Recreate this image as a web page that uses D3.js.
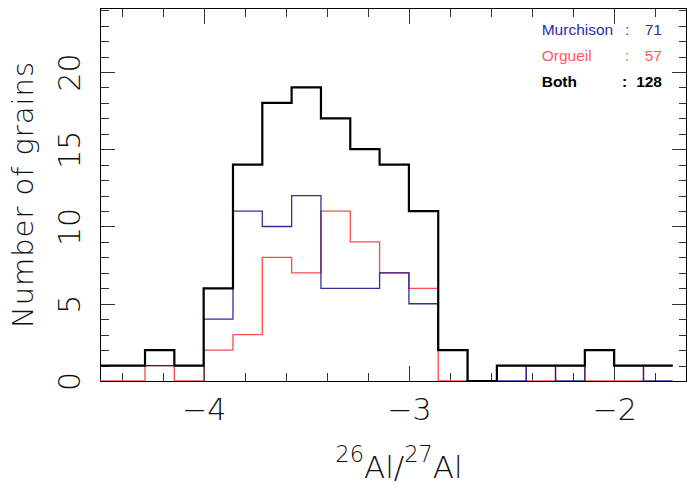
<!DOCTYPE html>
<html>
<head>
<meta charset="utf-8">
<script src="https://cdn.jsdelivr.net/npm/d3@7"></script>
<style>
  body { margin: 0; background: #fff; }
  svg { display: block; }
  .axis .domain { display: none; }
  .axis line { stroke: #333; shape-rendering: crispEdges; }
  .axis text { font-family: "DejaVu Sans", sans-serif; font-weight: 200; fill: #111; }
</style>
</head>
<body>
<svg width="687" height="485"></svg>
<script>
// 26Al/27Al histogram, bins of 1/7 starting at -4.5714
var binStart = -4.5714;
var binWidth = 0.142857;
var murchison = [1, 1, 1, 1, 4, 11, 10, 12, 6, 6, 7, 5, 2, 0, 0, 1, 0, 2, 1, 0];
var orgueil   = [0, 0, 1, 0, 2, 3, 8, 7, 11, 9, 7, 6, 0, 0, 1, 0, 1, 0, 0, 1];
var both      = [1, 1, 2, 1, 6, 14, 18, 19, 17, 15, 14, 11, 2, 0, 1, 1, 1, 2, 1, 1];
var seriesNames = ["Murchison", "Orgueil", "Both"];
var xMajor = [-4, -3, -2];
var yMajor = [0, 5, 10, 15, 20];

var svg = d3.select("svg");

var x = d3.scaleLinear().domain([-4.505, -1.65]).range([100, 686]);
var y = d3.scaleLinear().domain([0, 24.1]).range([381, 8.6]);

var xMinor = d3.range(-4.4, -1.7, 0.2).filter(v => Math.abs(v - Math.round(v)) > 0.01);
var yMinor = d3.range(0, 25).filter(v => v % 5 != 0);

// clip for the histogram lines
svg.append("clipPath").attr("id", "plotclip")
    .append("rect")
    .attr("x", 100).attr("y", 8.6)
    .attr("width", 586).attr("height", 381 - 8.6);

// axes (ticks on all four sides, major ticks longer)
function addAxis(gen, tr) {
    return svg.append("g").attr("class", "axis").attr("transform", tr).call(gen);
}
addAxis(d3.axisBottom(x).tickValues(xMinor).tickSize(-8).tickFormat(""), "translate(0,381)");
var xAx = addAxis(d3.axisBottom(x).tickValues(xMajor).tickSize(-15).tickFormat(d3.format("d")), "translate(0,381)");
addAxis(d3.axisTop(x).tickValues(xMinor).tickSize(-8).tickFormat(""), "translate(0,8.6)");
addAxis(d3.axisTop(x).tickValues(xMajor).tickSize(-15).tickFormat(""), "translate(0,8.6)");
addAxis(d3.axisLeft(y).tickValues(yMinor).tickSize(-9).tickFormat(""), "translate(100,0)");
var yAx = addAxis(d3.axisLeft(y).tickValues(yMajor).tickSize(-15), "translate(100,0)");
addAxis(d3.axisRight(y).tickValues(yMinor).tickSize(-7).tickFormat(""), "translate(686,0)");
addAxis(d3.axisRight(y).tickValues(yMajor).tickSize(-14).tickFormat(""), "translate(686,0)");

xAx.selectAll("text")
    .attr("y", 39).attr("dy", 0)
    .style("font-size", "30px");

yAx.selectAll("text")
    .attr("transform", "rotate(-90)")
    .attr("x", 0).attr("y", -20).attr("dy", 0)
    .attr("text-anchor", "middle")
    .style("font-size", "30px");

// frame
svg.append("rect")
    .attr("x", 100).attr("y", 8.6)
    .attr("width", 586).attr("height", 381 - 8.6)
    .attr("fill", "none")
    .attr("stroke", "#000")
    .attr("stroke-width", 1)
    .attr("shape-rendering", "crispEdges");

// step histograms
var line = d3.line()
    .x(d => x(d[0]))
    .y(d => y(d[1]))
    .curve(d3.curveStepAfter);

function steps(counts) {
    var pts = counts.map((c, i) => [binStart + i * binWidth, c]);
    pts.push([binStart + counts.length * binWidth, counts[counts.length - 1]]);
    return pts;
}

var hist = svg.append("g").attr("clip-path", "url(#plotclip)");
var styles = [
    { data: orgueil, color: "#ff4a4a", width: 1.3, opacity: 1 },
    { data: murchison, color: "#0c0c8c", width: 1.3, opacity: 0.85 },
    { data: both, color: "#000", width: 2.2, opacity: 1 }
];
styles.forEach(s => {
    hist.append("path")
        .attr("d", line(steps(s.data)))
        .attr("fill", "none")
        .attr("stroke", s.color)
        .attr("stroke-width", s.width)
        .attr("stroke-opacity", s.opacity);
});

// legend
var legendColors = ["#2b2bb0", "#ff5a5a", "#000"];
var totals = [d3.sum(murchison), d3.sum(orgueil), d3.sum(both)];
var legend = svg.append("g")
    .style("font-family", "'Liberation Sans', Arial, sans-serif")
    .style("font-size", "15.5px");
seriesNames.forEach((name, i) => {
    var ly = 35 + i * 25.8;
    var g = legend.append("g").style("font-weight", i == 2 ? "bold" : "normal");
    g.append("text").attr("x", 541.7).attr("y", ly).attr("fill", legendColors[i]).text(name);
    g.append("text").attr("x", i == 2 ? 622 : 625).attr("y", ly).attr("fill", legendColors[i]).text(":");
    g.append("text").attr("x", 662).attr("y", ly).attr("text-anchor", "end").attr("fill", legendColors[i]).text(totals[i]);
});

// axis titles
svg.append("text")
    .attr("transform", "translate(33,195) rotate(-90)")
    .attr("text-anchor", "middle")
    .attr("textLength", 266)
    .attr("lengthAdjust", "spacing")
    .style("font-family", "'DejaVu Sans', sans-serif")
    .style("font-weight", 200)
    .style("font-size", "29px")
    .attr("fill", "#111")
    .text("Number of grains");

var xt = svg.append("text")
    .attr("x", 399).attr("y", 477.5)
    .attr("text-anchor", "middle")
    .style("font-family", "'DejaVu Sans', sans-serif")
    .style("font-weight", 200)
    .attr("fill", "#111");
xt.append("tspan").attr("dy", -16).style("font-size", "22.5px").text("26");
xt.append("tspan").attr("dy", 16).style("font-size", "31px").text("Al/");
xt.append("tspan").attr("dy", -16).style("font-size", "22.5px").text("27");
xt.append("tspan").attr("dy", 16).style("font-size", "31px").text("Al");
</script>
</body>
</html>
